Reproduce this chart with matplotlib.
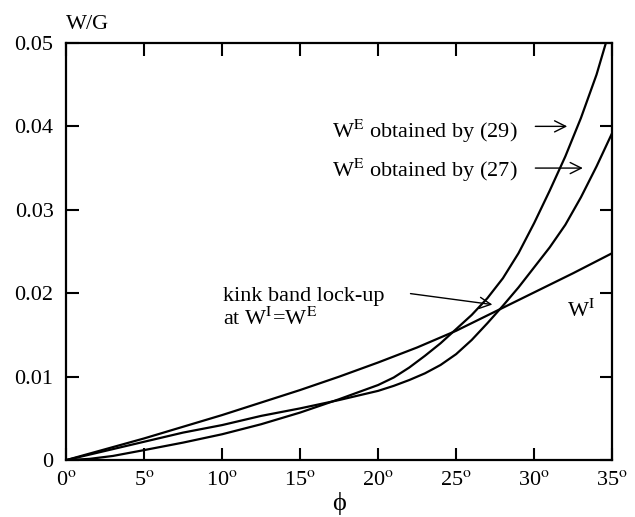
import matplotlib
matplotlib.use("Agg")
import matplotlib.pyplot as plt

plt.rcParams["font.family"] = ["Liberation Serif", "DejaVu Serif"]
plt.rcParams["mathtext.fontset"] = "stix"

# data (angle in degrees, W/G)
phi_i = [0, 2.5, 5, 7.5, 10, 12.5, 15, 17.5, 20, 22.5, 25, 27.5, 30, 32.5, 35]
w_i = [0, 0.0013, 0.0026, 0.0040, 0.0054, 0.0069, 0.0084, 0.0100, 0.0117, 0.0135,
       0.0155, 0.0178, 0.0201, 0.0224, 0.0248]

phi_29 = [0, 1.5, 3, 5, 7.5, 10, 12.5, 15, 17.5, 20, 21, 22, 23, 24, 25,
          26, 27, 28, 29, 30, 31, 32, 33, 34, 34.6]
w_e29 = [0, 0.00015, 0.0005, 0.0012, 0.0021, 0.0031, 0.0043, 0.0057, 0.0073, 0.0090,
         0.0099, 0.0111, 0.0125, 0.0140, 0.0157, 0.0174, 0.0194, 0.0218, 0.0248,
         0.0284, 0.0323, 0.0364, 0.0410, 0.0462, 0.0500]

phi_27 = [0, 2.5, 5, 7.5, 10, 12.5, 15, 17.5, 20, 21, 22, 23, 24, 25, 26,
          27, 28, 29, 30, 31, 32, 33, 34, 35]
w_e27 = [0, 0.0011, 0.0022, 0.0033, 0.0042, 0.0053, 0.0062, 0.0072, 0.0083, 0.0089,
         0.0096, 0.0104, 0.0114, 0.0127, 0.0144, 0.0164, 0.0185, 0.0207, 0.0231,
         0.0255, 0.0282, 0.0315, 0.0352, 0.0392]

x_ticks = [0, 5, 10, 15, 20, 25, 30, 35]
y_ticks = [0, 0.01, 0.02, 0.03, 0.04, 0.05]
y_tick_labels = ["0", "0.01", "0.02", "0.03", "0.04", "0.05"]

fig = plt.figure(figsize=(6.35, 5.17), dpi=100)
ax = fig.add_axes([0.104, 0.110, 0.860, 0.807])

ax.plot(phi_i, w_i, color="black", lw=1.6)
ax.plot(phi_29, w_e29, color="black", lw=1.6)
ax.plot(phi_27, w_e27, color="black", lw=1.6)

ax.set_xlim(0, 35)
ax.set_ylim(0, 0.05)
ax.set_xticks(x_ticks)
ax.set_xticklabels([f"{d}$^{{\\rm o}}$" for d in x_ticks])
ax.set_yticks(y_ticks)
ax.set_yticklabels(y_tick_labels)
ax.tick_params(direction="in", length=9, width=1.5, labelsize=16,
               top=True, right=True)
ax.tick_params(axis="x", pad=8)
ax.tick_params(axis="y", pad=9)
for s in ax.spines.values():
    s.set_linewidth(1.6)

ax.text(0.0, 1.022, "W/G", transform=ax.transAxes, fontsize=16,
        ha="left", va="bottom")
ax.set_xlabel("ϕ", fontsize=19, labelpad=1)

fs = 16
arrow = dict(arrowstyle="->", lw=1, color="black", mutation_scale=20)
ax.text(17.05, 0.0386, r"W$^{\rm E}$ obtained by (29)", fontsize=fs, va="baseline")
ax.text(17.05, 0.0340, r"W$^{\rm E}$ obtained by (27)", fontsize=fs, va="baseline")
ax.annotate("", xy=(32.3, 0.0400), xytext=(29.9, 0.0400), arrowprops=arrow)
ax.annotate("", xy=(33.3, 0.0350), xytext=(29.9, 0.0350), arrowprops=arrow)

ax.text(10.06, 0.0191, "kink band lock-up", fontsize=fs, va="baseline")
ax.text(10.06, 0.0162, r"at W$^{\rm I}$=W$^{\rm E}$", fontsize=fs, va="baseline")
ax.annotate("", xy=(27.5, 0.0186), xytext=(21.9, 0.0200), arrowprops=arrow)

ax.text(32.1, 0.0172, r"W$^{\rm I}$", fontsize=fs, va="baseline")

fig.savefig("out.png", dpi=100)
